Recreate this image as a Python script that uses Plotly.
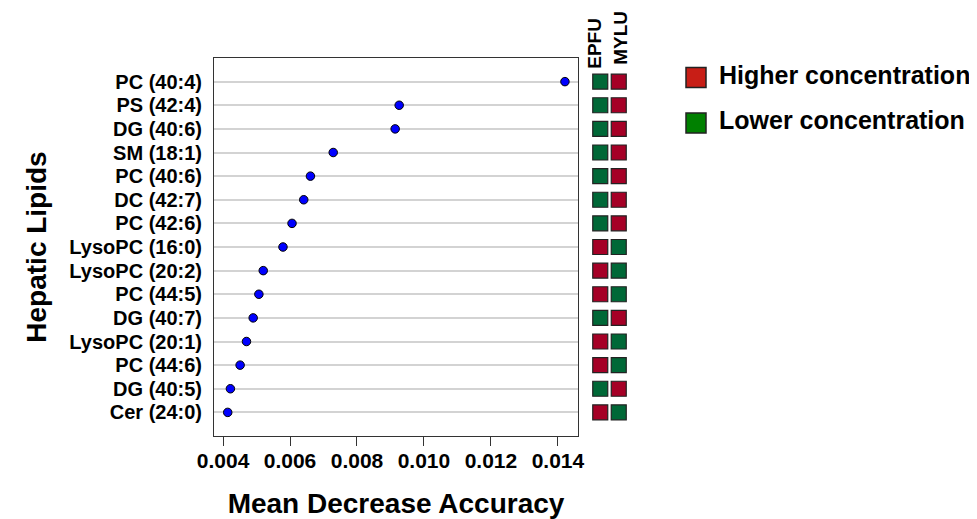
import plotly.graph_objects as go

# ---- data (top to bottom as shown) ----
lipids = ["PC (40:4)", "PS (42:4)", "DG (40:6)", "SM (18:1)", "PC (40:6)",
          "DC (42:7)", "PC (42:6)", "LysoPC (16:0)", "LysoPC (20:2)", "PC (44:5)",
          "DG (40:7)", "LysoPC (20:1)", "PC (44:6)", "DG (40:5)", "Cer (24:0)"]
mda = [0.01421, 0.00926, 0.00914, 0.00729, 0.00661,
       0.00641, 0.00606, 0.00579, 0.00520, 0.00507,
       0.00490, 0.00470, 0.00451, 0.00422, 0.00414]
species = ["EPFU", "MYLU"]
# "H" = higher concentration, "L" = lower concentration
epfu = ["L", "L", "L", "L", "L", "L", "L", "H", "H", "H", "L", "H", "H", "L", "H"]
mylu = ["H", "H", "H", "H", "H", "H", "H", "L", "L", "L", "H", "L", "L", "H", "L"]
legend_labels = ["Higher concentration", "Lower concentration"]
x_ticks = [0.004, 0.006, 0.008, 0.010, 0.012, 0.014]

W, H = 977, 519
OX, OY = 8, 8  # page body margin offset
FONT = "Liberation Sans, Arial, sans-serif"
cell_col = {"H": "#A50026", "L": "#006837"}
legend_col = ["#C81E16", "#008000"]

order = lipids[::-1]  # bottom to top


def fx(px):
    return (px - OX) / W


def fy(py):
    return 1 - (py - OY) / H


fig = go.Figure()

# dot chart
fig.add_trace(go.Scatter(
    x=mda, y=lipids, mode="markers", xaxis="x", yaxis="y",
    marker=dict(size=8.5, color="#0000FF", line=dict(color="black", width=1)),
    showlegend=False, hoverinfo="x+y"))

# direction squares
for name, vals in zip(species, [epfu, mylu]):
    fig.add_trace(go.Scatter(
        x=[name] * len(lipids), y=lipids, mode="markers", xaxis="x2", yaxis="y2",
        marker=dict(symbol="square", size=15, color=[cell_col[v] for v in vals],
                    line=dict(color="#222222", width=1.2)),
        showlegend=False, hoverinfo="x+y"))

# legend (drawn on its own pixel-scaled axis)
fig.add_trace(go.Scatter(
    x=[22, 22], y=[0, 1], mode="markers", xaxis="x3", yaxis="y3",
    marker=dict(symbol="square", size=20, color=legend_col,
                line=dict(color="#222222", width=1.5)),
    showlegend=False, hoverinfo="skip"))
fig.add_trace(go.Scatter(
    x=[45, 45], y=[0, 1], mode="text", xaxis="x3", yaxis="y3",
    text=legend_labels, textposition="middle right",
    textfont=dict(family=FONT, size=25, color="black", weight="bold"),
    showlegend=False, hoverinfo="skip"))

px_l, px_r, px_t, px_b = 214, 578, 58, 436
xdom = [fx(px_l), fx(px_r)]
ydom = [fy(px_b), fy(px_t)]

fig.update_layout(
    width=W, height=H, margin=dict(l=0, r=0, t=0, b=0),
    paper_bgcolor="white", plot_bgcolor="white",
    font=dict(family=FONT, color="black"),
    xaxis=dict(domain=xdom, range=[0.00373, 0.0146], anchor="y",
               tickmode="array", tickvals=x_ticks,
               ticktext=[f"{v:.3f}" for v in x_ticks],
               ticks="outside", ticklen=9, tickwidth=1, tickcolor="#333333",
               ticklabelstandoff=-3,
               tickfont=dict(size=21, family=FONT, weight="bold"),
               showgrid=False, zeroline=False,
               showline=True, mirror=True, linecolor="#333333", linewidth=1,
               title=dict(text="Mean Decrease Accuracy",
                          font=dict(size=28, family=FONT, weight="bold"),
                          standoff=22),
               automargin=False),
    yaxis=dict(domain=ydom, range=[-1, 15], anchor="x",
               type="category", categoryorder="array", categoryarray=order,
               tickmode="array", tickvals=lipids, ticktext=lipids,
               ticks="", ticklabelstandoff=7,
               tickfont=dict(size=20, family=FONT, weight="bold"),
               showgrid=True, gridcolor="#D3D3D3", gridwidth=1.5,
               zeroline=False,
               showline=True, mirror=True, linecolor="#333333", linewidth=1,
               title=dict(text="Hepatic Lipids",
                          font=dict(size=28, family=FONT, weight="bold"),
                          standoff=14),
               automargin=False),
    xaxis2=dict(domain=[fx(591), fx(628)], range=[-0.5, 1.5], anchor="y2",
                type="category", categoryorder="array", categoryarray=species,
                visible=False),
    yaxis2=dict(domain=ydom, range=[-1, 15], anchor="x2",
                type="category", categoryorder="array", categoryarray=order,
                visible=False),
    xaxis3=dict(domain=[fx(674), 1.0], range=[0, W - 674 + OX], anchor="y3", visible=False),
    yaxis3=dict(domain=[fy(150), fy(50)], range=[1.593, -0.604], anchor="x3",
                visible=False),
)

# species column headers
header_xshift = [-6, 1]
header_bottom = [71, 67]
for name, dx, yb in zip(species, header_xshift, header_bottom):
    fig.add_annotation(x=name, xref="x2", y=fy(yb), yref="paper",
                       text=name, textangle=-90, showarrow=False,
                       xanchor="center", yanchor="bottom", xshift=dx,
                       font=dict(size=19, family=FONT, color="black", weight="bold"))

fig.write_html("out.html")
